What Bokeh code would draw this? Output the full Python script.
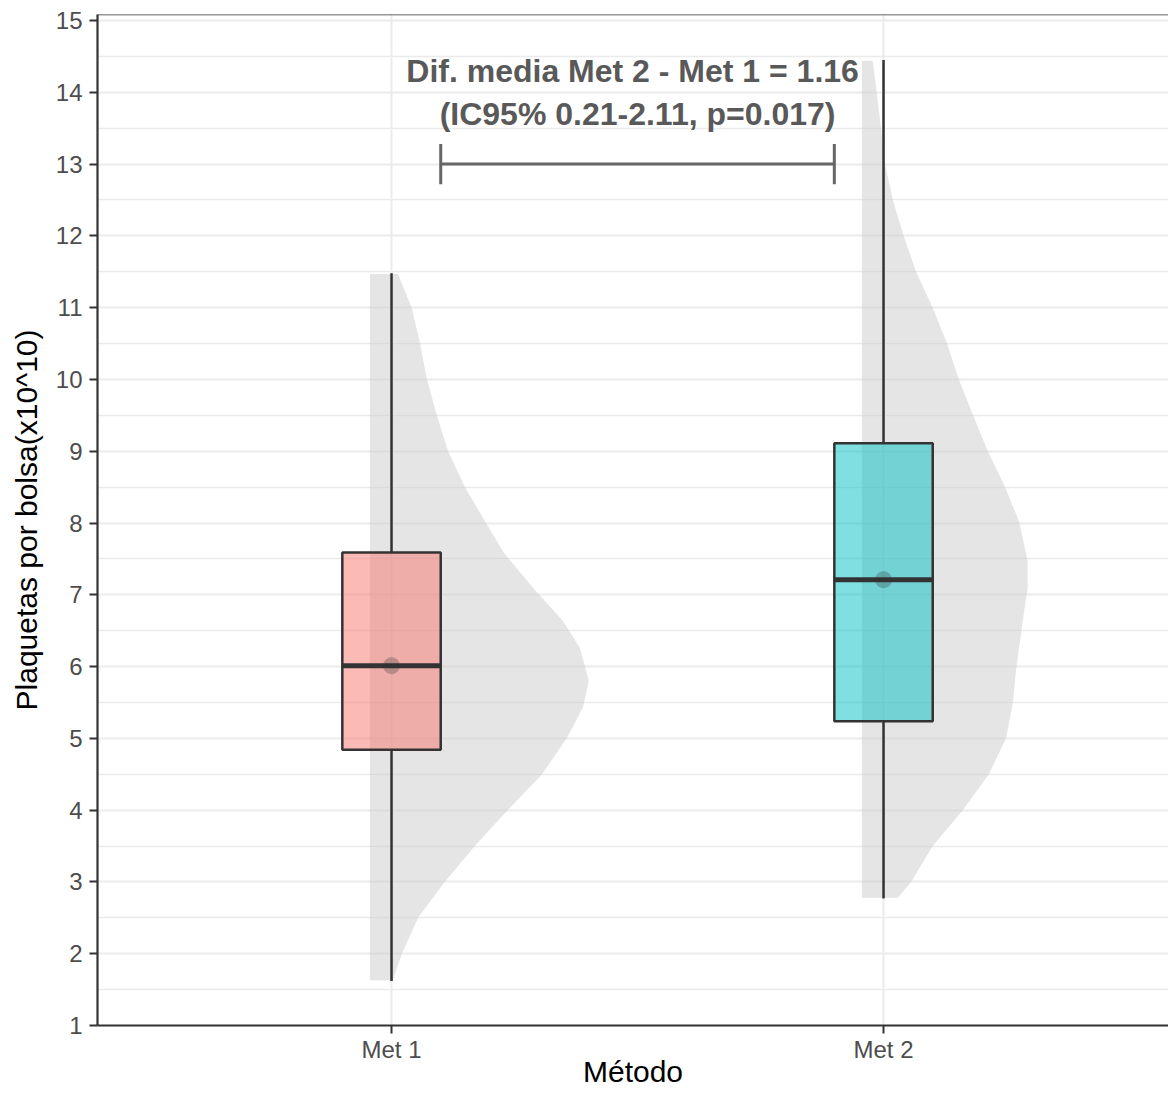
from bokeh.plotting import figure
from bokeh.models import Range1d, FixedTicker, ColumnDataSource, Span
from bokeh.core.properties import value
from bokeh.embed import file_html
from bokeh.resources import INLINE

# ---------------- data ----------------
categories = ["Met 1", "Met 2"]
box_colors = ["#F8766D", "#00BFC4"]
whisker_low = [1.62, 2.77]
q1 = [4.84, 5.24]
median = [6.01, 7.21]
q3 = [7.59, 9.11]
whisker_high = [11.48, 14.45]
means = [6.01, 7.21]

# half-violin profiles: y level and width (x units, measured from the flat side)
violin_y_met1 = [1.63, 2.0, 2.5, 3.0, 3.5, 4.0, 4.5, 5.0, 5.43, 5.8, 6.26, 6.64,
                 7.1, 7.57, 8.0, 8.5, 9.0, 9.5, 10.0, 10.5, 11.0, 11.47]
violin_w_met1 = [0.047, 0.065, 0.098, 0.152, 0.213, 0.280, 0.350, 0.400, 0.433,
                 0.445, 0.427, 0.392, 0.331, 0.274, 0.236, 0.193, 0.159, 0.136,
                 0.116, 0.102, 0.085, 0.057]
violin_y_met2 = [2.78, 3.0, 3.5, 4.0, 4.5, 5.0, 5.5, 5.94, 6.64, 7.1, 7.47, 8.03,
                 8.5, 9.0, 9.5, 10.0, 10.5, 11.0, 11.5, 12.0, 12.5, 13.0, 13.5,
                 14.0, 14.44]
violin_w_met2 = [0.073, 0.100, 0.144, 0.205, 0.258, 0.293, 0.307, 0.313, 0.327,
                 0.337, 0.337, 0.319, 0.291, 0.256, 0.226, 0.197, 0.173, 0.144,
                 0.110, 0.085, 0.063, 0.047, 0.039, 0.030, 0.022]

y_ticks = list(range(1, 16))
y_minor = [t + 0.5 for t in range(1, 15)]

diff_label = "Dif. media Met 2 - Met 1 = 1.16"
ci_label = "(IC95% 0.21-2.11, p=0.017)"
bracket_y = 13.0

x_title = "Método"
y_title = "Plaquetas por bolsa(x10^10)"

FONT = "Liberation Sans"

# ---------------- figure ----------------
W, H = 1168, 1090
Y_TOP = 15.084
p = figure(width=W, height=H,
           x_range=Range1d(0.4024, 2.5792), y_range=Range1d(1.0, Y_TOP),
           output_backend="svg", toolbar_location=None,
           min_border_left=97, min_border_right=0, min_border_top=14,
           min_border_bottom=0)
p.outline_line_color = None
p.background_fill_color = "white"
p.border_fill_color = "white"

# axes
pos = [i + 1 for i in range(len(categories))]
p.xaxis.ticker = FixedTicker(ticks=pos)
p.xaxis.major_label_overrides = {pp: c for pp, c in zip(pos, categories)}
p.yaxis.ticker = FixedTicker(ticks=y_ticks, minor_ticks=y_minor)

for ax in (p.xaxis[0], p.yaxis[0]):
    ax.axis_line_color = "#333333"
    ax.axis_line_width = 2.2
    ax.major_tick_line_color = "#333333"
    ax.major_tick_line_width = 2
    ax.major_tick_out = 8
    ax.major_tick_in = 0
    ax.minor_tick_line_color = None
    ax.major_label_text_font = FONT
    ax.major_label_text_font_size = "24px"
    ax.major_label_text_color = "#4d4d4d"
    ax.axis_label_text_font = FONT
    ax.axis_label_text_font_style = "normal"
    ax.axis_label_text_font_size = "30px"
    ax.axis_label_text_color = "black"

p.xaxis.major_label_standoff = 2
p.xaxis.axis_label = x_title
p.xaxis.axis_label_standoff = -11
p.yaxis.major_label_standoff = 7
p.yaxis.axis_label = y_title
p.yaxis.axis_label_standoff = 10

# grid
p.xgrid.grid_line_color = "#ebebeb"
p.xgrid.grid_line_width = 2
p.ygrid.grid_line_color = "#ebebeb"
p.ygrid.grid_line_width = 2
p.ygrid.minor_grid_line_color = "#ebebeb"
p.ygrid.minor_grid_line_width = 1.5

# top border
p.add_layout(Span(location=Y_TOP, dimension="width", line_color="#333333", line_width=1.5))

# ---------------- half violins ----------------
flat_offset = -0.044
vx, vy = [], []
for cx, ys, ws in ((pos[0], violin_y_met1, violin_w_met1), (pos[1], violin_y_met2, violin_w_met2)):
    x0 = cx + flat_offset
    xs = [x0] + [x0 + w for w in ws] + [x0]
    yy = [ys[0]] + list(ys) + [ys[-1]]
    vx.append(xs)
    vy.append(yy)
p.patches(vx, vy, fill_color="#cccccc", fill_alpha=0.5, line_color=None)

# ---------------- boxplots ----------------
src = ColumnDataSource(dict(x=pos, lo=whisker_low, q1=q1, med=median, q3=q3,
                            hi=whisker_high, mean=means, color=box_colors))
box_w = 0.2
p.segment(x0="x", y0="lo", x1="x", y1="q1", source=src, line_color="#333333", line_width=2.5)
p.segment(x0="x", y0="q3", x1="x", y1="hi", source=src, line_color="#333333", line_width=2.5)
p.vbar(x="x", width=box_w, bottom="q1", top="q3", source=src,
       fill_color="color", fill_alpha=0.5, line_color="#333333", line_width=2.5)
p.segment(x0=[x - box_w / 2 for x in pos], y0=median, x1=[x + box_w / 2 for x in pos], y1=median,
          line_color="#333333", line_width=5)
p.scatter(x="x", y="mean", source=src, size=17, fill_color="#333333", fill_alpha=0.28,
          line_color=None)

# ---------------- annotation ----------------
b0, b1 = pos[0] + 0.1, pos[1] - 0.1
p.segment(x0=[b0, b0, b1], y0=[bracket_y, bracket_y - 0.28, bracket_y - 0.28],
          x1=[b1, b0, b1], y1=[bracket_y, bracket_y + 0.28, bracket_y + 0.28],
          line_color="#666666", line_width=3)
mid = (pos[0] + pos[1]) / 2
p.text(x=[mid - 0.01, mid], y=[14.29, 13.70], text=[diff_label, ci_label],
       text_font=value(FONT), text_font_style="bold", text_font_size="32px",
       text_color="#595959", text_align="center", text_baseline="middle")

open("out.html", "w").write(file_html(p, INLINE))
